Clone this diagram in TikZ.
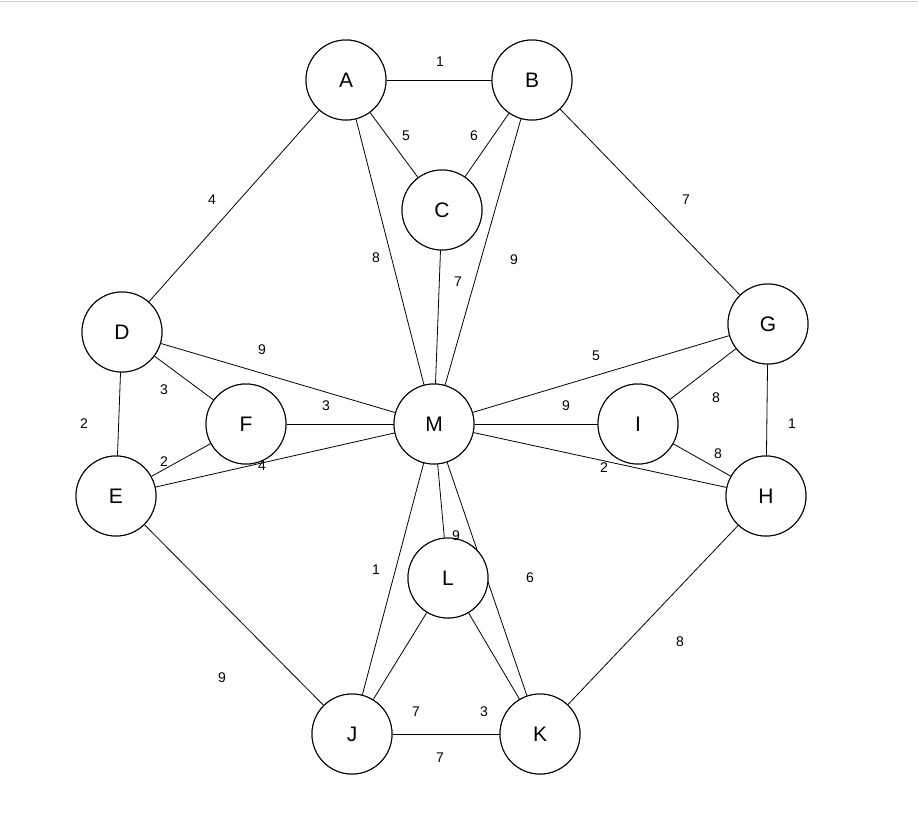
\documentclass[tikz,border=0pt]{standalone}
\usepackage{fontspec}
\setmainfont{Liberation Sans}
\begin{document}
\begin{tikzpicture}[x=1pt,y=-1pt,
  vtx/.style={circle,draw,line width=1pt,minimum size=80pt,inner sep=0pt,fill=white,font=\fontsize{21}{24}\selectfont},
  lbl/.style={font=\fontsize{14}{16}\selectfont},
  edge/.style={line width=0.8pt}]
\useasboundingbox (0,0) rectangle (918,812);
\fill[white] (0,0) rectangle (918,812);
\draw[gray!40] (0,1) -- (918,1);
\foreach \n/\x/\y in {A/346/80,B/532/80,C/442/210,D/122/332,E/116/496,F/246/424,G/768/324,H/766/496,I/638/424,M/434/424,L/448/578,J/352/734,K/540/734}
  \node[vtx] (\n) at (\x,\y) {\n};
\begin{scope}[on background layer/.try]
\end{scope}
\foreach \a/\b in {A/B,A/C,B/C,A/D,B/G,A/M,C/M,B/M,D/M,G/M,D/F,F/M,I/M,G/I,D/E,G/H,E/F,I/H,E/M,H/M,L/M,J/M,K/M,E/J,H/K,J/L,L/K,J/K}
  \draw[edge] (\a) -- (\b);
\foreach \n/\x/\y in {A/346/80,B/532/80,C/442/210,D/122/332,E/116/496,F/246/424,G/768/324,H/766/496,I/638/424,M/434/424,L/448/578,J/352/734,K/540/734}
  \node[vtx] at (\x,\y) {\n};
\foreach \t/\x/\y in {1/440/62,5/406/136,6/474/136,4/212/200,7/686/200,8/376/258,7/458/282,9/514/260,9/262/350,5/596/356,3/164/390,3/326/406,9/566/406,8/716/398,2/84/424,1/792/424,2/164/462,8/718/454,4/262/466,2/604/468,9/456/536,1/376/570,6/530/578,9/222/678,8/680/642,7/416/712,3/484/712,7/440/758}
  \node[lbl] at (\x,\y) {\t};
\end{tikzpicture}
\end{document}
